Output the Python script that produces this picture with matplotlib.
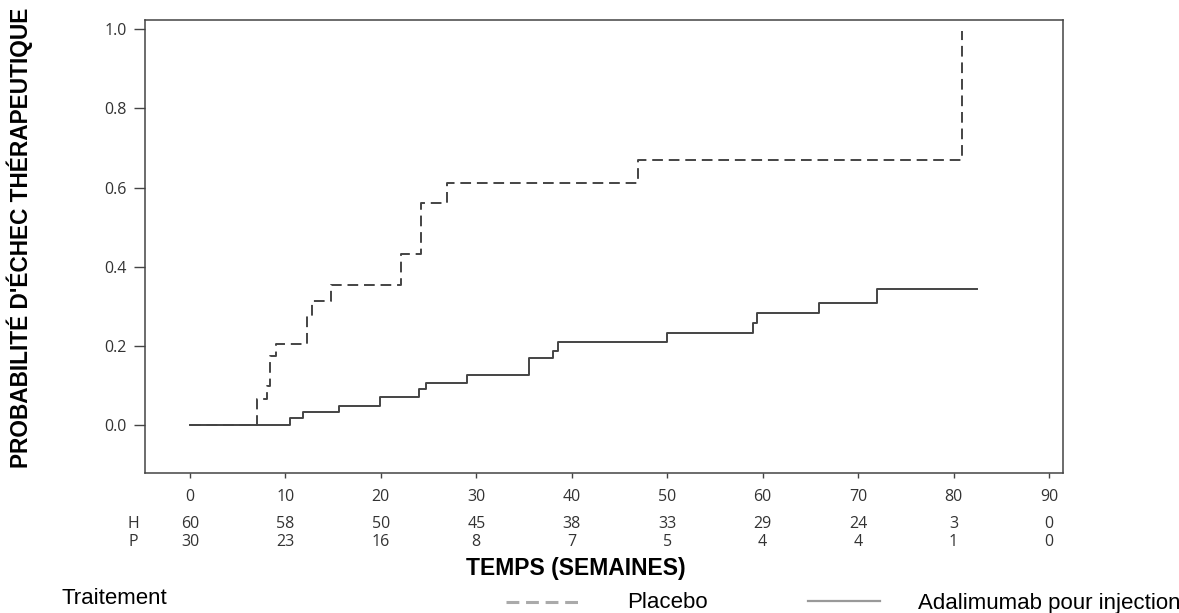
import matplotlib
matplotlib.use("Agg")
import matplotlib.pyplot as plt
from matplotlib.lines import Line2D
from matplotlib.transforms import blended_transform_factory

# Courbes de Kaplan-Meier (probabilite d'echec therapeutique)
temps_placebo = [0, 7.05, 8.10, 8.38, 8.98, 12.23, 12.75, 14.74, 22.11, 24.17, 26.90, 46.97, 80.92]
proba_placebo = [0, 0.067, 0.100, 0.174, 0.206, 0.275, 0.314, 0.354, 0.432, 0.562, 0.611, 0.671, 0.995]

temps_adalimumab = [0, 10.48, 11.87, 15.64, 19.91, 24.03, 24.73, 28.99, 35.55, 38.00, 38.59,
                    49.95, 58.96, 59.38, 65.94, 72.01, 82.43]
proba_adalimumab = [0, 0.018, 0.033, 0.050, 0.073, 0.091, 0.106, 0.127, 0.169, 0.188, 0.210,
                    0.233, 0.258, 0.283, 0.308, 0.344, 0.344]

# Nombre de patients a risque
semaines = [0, 10, 20, 30, 40, 50, 60, 70, 80, 90]
a_risque_H = [60, 58, 50, 45, 38, 33, 29, 24, 3, 0]
a_risque_P = [30, 23, 16, 8, 7, 5, 4, 4, 1, 0]

W, H = 1179, 613
GRIS = '#444444'
POLICE_TICKS = 'Open Sans'
POLICE_TEXTE = 'Liberation Sans'
TAILLE_TICKS = 11.5

fig = plt.figure(figsize=(W / 100, H / 100), dpi=100)
ax = fig.add_axes([145 / W, 1 - 473 / H, (1063 - 145) / W, (473 - 20) / H])

ax.step(temps_placebo, proba_placebo, where='post', color=GRIS, linewidth=1.4,
        linestyle=(0, (5.5, 3)))
ax.step(temps_adalimumab, proba_adalimumab, where='post', color=GRIS, linewidth=1.4)

ax.set_xlim(-4.71, 91.47)
ax.set_ylim(-0.12, 1.023)
ax.set_xticks(semaines)
ax.set_yticks([0.0, 0.2, 0.4, 0.6, 0.8, 1.0])
ax.set_yticklabels(['0.0', '0.2', '0.4', '0.6', '0.8', '1.0'])

for spine in ax.spines.values():
    spine.set_color(GRIS)
    spine.set_linewidth(1.1)

ax.tick_params(axis='x', length=3.5, width=1, color=GRIS, pad=8,
               labelsize=TAILLE_TICKS, labelcolor='#333333')
ax.tick_params(axis='y', length=8, width=1, color=GRIS, pad=5,
               labelsize=TAILLE_TICKS, labelcolor='#333333')
for lbl in ax.get_xticklabels() + ax.get_yticklabels():
    lbl.set_fontfamily(POLICE_TICKS)

# Tableau des patients a risque sous l'axe
trans = blended_transform_factory(ax.transData, fig.transFigure)
for s, h, p in zip(semaines, a_risque_H, a_risque_P):
    ax.text(s, 1 - 524 / H, str(h), transform=trans, ha='center', va='center',
            fontsize=TAILLE_TICKS, color='#333333', family=POLICE_TICKS)
    ax.text(s, 1 - 542 / H, str(p), transform=trans, ha='center', va='center',
            fontsize=TAILLE_TICKS, color='#333333', family=POLICE_TICKS)
fig.text(133 / W, 1 - 524 / H, 'H', ha='center', va='center', fontsize=TAILLE_TICKS,
         color='#333333', family=POLICE_TICKS)
fig.text(133 / W, 1 - 542 / H, 'P', ha='center', va='center', fontsize=TAILLE_TICKS,
         color='#333333', family=POLICE_TICKS)

# Titres des axes
fig.text(576 / W, 1 - 568 / H, 'TEMPS (SEMAINES)', ha='center', va='center',
         fontsize=16.5, fontweight='bold', family=POLICE_TEXTE)
fig.text(20 / W, 1 - 238 / H, "PROBABILITÉ D'ÉCHEC THÉRAPEUTIQUE", ha='center', va='center',
         rotation=90, fontsize=16.3, fontweight='bold', family=POLICE_TEXTE)

# Legende
y_leg = 1 - 603 / H
fig.text(62 / W, 1 - 599 / H, 'Traitement', ha='left', va='center', fontsize=16, family=POLICE_TEXTE)
fig.add_artist(Line2D([506 / W, 582 / W], [1 - 602 / H, 1 - 602 / H], transform=fig.transFigure,
                      color='#aaaaaa', linewidth=2.2, linestyle=(0, (4.2, 2.2))))
fig.text(627 / W, y_leg, 'Placebo', ha='left', va='center', fontsize=16, family=POLICE_TEXTE)
fig.add_artist(Line2D([808 / W, 880 / W], [1 - 601 / H, 1 - 601 / H], transform=fig.transFigure,
                      color='#999999', linewidth=1.6))
fig.text(918 / W, y_leg, 'Adalimumab pour injection', ha='left', va='center', fontsize=16,
         family=POLICE_TEXTE)

fig.savefig('out.png', dpi=100)
